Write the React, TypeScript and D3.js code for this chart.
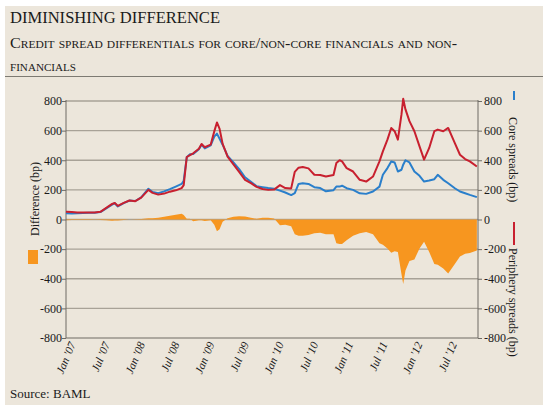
import * as d3 from 'd3';
import { useEffect, useRef } from 'react';

// observation dates (irregular where the lines turn sharply)
const dates = [
    '2007-01-01', '2007-02-01', '2007-03-01', '2007-04-01', '2007-05-01', '2007-06-01',
    '2007-07-01', '2007-08-01', '2007-09-01', '2007-09-15', '2007-10-01', '2007-11-01',
    '2007-12-01', '2008-01-01', '2008-02-01', '2008-03-10', '2008-04-01', '2008-05-01',
    '2008-06-01', '2008-07-01', '2008-08-01', '2008-09-01', '2008-09-12', '2008-09-28',
    '2008-10-15', '2008-11-01', '2008-12-01', '2008-12-15', '2009-01-01', '2009-02-01',
    '2009-02-20', '2009-03-06', '2009-03-20', '2009-04-05', '2009-05-01', '2009-06-01',
    '2009-07-01', '2009-08-01', '2009-09-01', '2009-10-01', '2009-11-01', '2009-12-01',
    '2010-01-01', '2010-02-01', '2010-03-01', '2010-04-01', '2010-04-20', '2010-05-10',
    '2010-06-01', '2010-07-01', '2010-08-01', '2010-09-01', '2010-10-01', '2010-11-10',
    '2010-11-25', '2010-12-12', '2010-12-25', '2011-01-18', '2011-02-21', '2011-03-28',
    '2011-05-01', '2011-06-06', '2011-07-10', '2011-07-28', '2011-08-21', '2011-09-10',
    '2011-09-28', '2011-10-15', '2011-11-03', '2011-11-12', '2011-11-24', '2011-12-15',
    '2012-01-10', '2012-02-06', '2012-03-01', '2012-03-28', '2012-04-24', '2012-05-12',
    '2012-06-10', '2012-07-06', '2012-08-10', '2012-09-06', '2012-10-03', '2012-10-28',
    '2012-12-04',
];

// core spreads (bp), right axis
const core = [
    42, 40, 42, 44, 45, 46,
    50, 75, 100, 110, 88, 110,
    128, 125, 150, 208, 185, 178,
    190, 205, 222, 240, 262, 420,
    440, 442, 475, 505, 480, 500,
    560, 580, 545, 505, 430, 385,
    340, 285, 255, 225, 218, 212,
    208, 195, 182, 165, 178, 240,
    245, 240, 218, 212, 190, 198,
    222, 222, 228, 211, 200, 177,
    173, 189, 222, 302, 347, 392,
    385, 324, 336, 370, 400, 385,
    324, 295, 256, 263, 272, 302,
    268, 245, 211, 189, 177, 166,
    151,
];

// periphery spreads (bp), right axis
const periphery = [
    53, 50, 48, 48, 47, 47,
    52, 78, 105, 112, 92, 112,
    128, 124, 148, 200, 180, 168,
    175, 188, 197, 212, 232, 422,
    435, 447, 478, 510, 488, 505,
    595, 655, 612, 510, 425, 372,
    322, 268, 245, 220, 206, 200,
    202, 232, 212, 210, 322, 350,
    355, 345, 302, 300, 290, 300,
    381, 400, 392, 347, 324, 268,
    256, 290, 392, 460, 539, 618,
    596, 539, 709, 815, 743, 664,
    596, 494, 404, 483, 596, 607,
    596, 618, 516, 437, 408, 392,
    358,
];

// difference (bp), left axis
const difference = [
    -5, -4, -4, -3, -3, -2,
    -3, -5, -8, -6, -6, -3,
    0, 1, 3, 8, 8, 12,
    18, 25, 32, 38, 30, 5,
    5, -12, -5, -5, -10, -5,
    -35, -80, -65, -15, 8, 18,
    22, 20, 12, 5, 12, 12,
    6, -38, -35, -45, -100, -110,
    -110, -105, -92, -90, -100, -100,
    -160, -165, -165, -140, -110, -92,
    -85, -100, -160, -170, -195, -225,
    -215, -220, -370, -435, -345, -280,
    -270, -195, -150, -220, -300, -305,
    -330, -365, -300, -250, -232, -226,
    -210,
];

const yTicks = [800, 600, 400, 200, 0, -200, -400, -600, -800];

const SERIF = '"Liberation Serif", "DejaVu Serif", serif';

export default function App() {
    const ref = useRef<any>();

    useEffect(() => {
        const svg = d3.select<any, any>(ref.current);
        svg.selectAll('*').remove();

        const W = 550;
        const H = 412;
        const plot = { left: 66, right: 478, top: 101, bottom: 338 };

        const parse = d3.timeParse('%Y-%m-%d');
        const data = dates.map((d, i) => ({
            date: parse(d) as Date,
            core: core[i],
            periphery: periphery[i],
            diff: difference[i],
        }));

        const x = d3.scaleTime()
            .domain([new Date(2007, 0, 1), new Date(2012, 11, 10)])
            .range([plot.left, plot.right]);
        const y = d3.scaleLinear().domain([-800, 800]).range([plot.bottom, plot.top]);

        // panel
        svg.append('rect')
            .attr('x', 5).attr('y', 6)
            .attr('width', 538).attr('height', 399)
            .attr('fill', '#ECE6DB');

        // headings
        svg.append('text')
            .attr('x', 10).attr('y', 23)
            .attr('font-family', SERIF).attr('font-size', 16)
            .attr('fill', '#1a1a1a')
            .attr('textLength', 210).attr('lengthAdjust', 'spacingAndGlyphs')
            .text('DIMINISHING DIFFERENCE');
        svg.append('text')
            .attr('x', 10).attr('y', 48)
            .attr('font-family', SERIF).attr('font-size', 14)
            .style('font-variant', 'small-caps')
            .attr('fill', '#1a1a1a')
            .attr('textLength', 447).attr('lengthAdjust', 'spacingAndGlyphs')
            .text('Credit spread differentials for core/non-core financials and non-');
        svg.append('text')
            .attr('x', 10).attr('y', 71)
            .attr('font-family', SERIF).attr('font-size', 14)
            .style('font-variant', 'small-caps')
            .attr('fill', '#1a1a1a')
            .attr('textLength', 66).attr('lengthAdjust', 'spacingAndGlyphs')
            .text('financials');
        svg.append('line')
            .attr('x1', 5).attr('x2', 543)
            .attr('y1', 76.5).attr('y2', 76.5)
            .attr('stroke', '#7d7a72').attr('stroke-width', 1.2);

        // grid
        svg.append('g').selectAll('line')
            .data(yTicks.filter(t => t !== -800))
            .join('line')
            .attr('x1', plot.left).attr('x2', plot.right)
            .attr('y1', d => y(d)).attr('y2', d => y(d))
            .attr('stroke', '#a8a297').attr('stroke-width', 1.4);

        // difference area
        const area = d3.area<any>()
            .x(d => x(d.date))
            .y0(y(0))
            .y1(d => y(d.diff));
        svg.append('path')
            .datum(data)
            .attr('d', area)
            .attr('fill', '#F7961F');

        // axes
        const axisColor = '#6e6b65';
        const leftAxis = d3.axisLeft(y).tickValues(yTicks).tickSize(4).tickFormat((d: any) => String(d));
        const rightAxis = d3.axisRight(y).tickValues(yTicks).tickSize(4).tickFormat((d: any) => String(d));
        const styleAxis = (g: any, anchor: string, dx: number) => {
            g.selectAll('.tick line').attr('stroke', axisColor);
            g.selectAll('.tick text')
                .attr('font-family', SERIF).attr('font-size', 12)
                .attr('fill', '#1a1a1a')
                .attr('text-anchor', anchor)
                .attr('x', dx);
        };
        svg.append('g')
            .attr('transform', `translate(${plot.left},0)`)
            .call(leftAxis)
            .call((g: any) => styleAxis(g, 'end', -4));
        svg.append('g')
            .attr('transform', `translate(${plot.right},0)`)
            .call(rightAxis)
            .call((g: any) => styleAxis(g, 'start', 6));
        svg.selectAll('.domain').remove();
        [plot.left, plot.right].forEach(px => {
            svg.append('line')
                .attr('x1', px).attr('x2', px)
                .attr('y1', plot.top - 1).attr('y2', plot.bottom)
                .attr('stroke', axisColor).attr('stroke-width', 1);
        });
        svg.append('line')
            .attr('x1', plot.left).attr('x2', plot.right)
            .attr('y1', plot.bottom).attr('y2', plot.bottom)
            .attr('stroke', axisColor).attr('stroke-width', 1.2);

        // x labels
        const xTicks = d3.timeMonth.every(6)!.range(new Date(2007, 0, 1), new Date(2012, 7, 1));
        const fmt = d3.timeFormat("%b '%y");
        svg.append('g').selectAll('text')
            .data(xTicks)
            .join('text')
            .attr('transform', d => `translate(${x(d) + 10},344) rotate(-67)`)
            .attr('text-anchor', 'end')
            .attr('font-family', SERIF).attr('font-size', 11.5)
            .attr('font-style', 'italic')
            .attr('fill', '#1a1a1a')
            .text(d => fmt(d));

        // spread lines
        const coreLine = d3.line<any>().x(d => x(d.date)).y(d => y(d.core));
        const perLine = d3.line<any>().x(d => x(d.date)).y(d => y(d.periphery));
        svg.append('path').datum(data)
            .attr('d', coreLine)
            .attr('fill', 'none').attr('stroke', '#2A7FCB').attr('stroke-width', 2)
            .attr('stroke-linejoin', 'round');
        svg.append('path').datum(data)
            .attr('d', perLine)
            .attr('fill', 'none').attr('stroke', '#C8202F').attr('stroke-width', 2)
            .attr('stroke-linejoin', 'round');

        // left legend
        svg.append('text')
            .attr('transform', 'translate(39,199) rotate(-90)')
            .attr('text-anchor', 'middle')
            .attr('font-family', SERIF).attr('font-size', 12)
            .attr('fill', '#1a1a1a')
            .text('Difference (bp)');
        svg.append('rect')
            .attr('x', 28).attr('y', 250)
            .attr('width', 10).attr('height', 14)
            .attr('fill', '#F7961F');

        // right legend
        svg.append('line')
            .attr('x1', 514).attr('x2', 514).attr('y1', 91).attr('y2', 100)
            .attr('stroke', '#2A7FCB').attr('stroke-width', 2);
        svg.append('text')
            .attr('transform', 'translate(509,117) rotate(90)')
            .attr('font-family', SERIF).attr('font-size', 12)
            .attr('fill', '#1a1a1a')
            .text('Core spreads (bp)');
        svg.append('line')
            .attr('x1', 514).attr('x2', 514).attr('y1', 222).attr('y2', 245)
            .attr('stroke', '#C8202F').attr('stroke-width', 2);
        svg.append('text')
            .attr('transform', 'translate(509,248) rotate(90)')
            .attr('font-family', SERIF).attr('font-size', 12)
            .attr('fill', '#1a1a1a')
            .text('Periphery spreads (bp)');

        // source
        svg.append('text')
            .attr('x', 10).attr('y', 398)
            .attr('font-family', SERIF).attr('font-size', 13)
            .attr('fill', '#1a1a1a')
            .text('Source: BAML');

        svg.attr('width', W).attr('height', H);
    });

    return (
        <div style={{ position: 'absolute', left: 0, top: 0 }}>
            <svg ref={ref} width={550} height={412} style={{ display: 'block' }}></svg>
        </div>
    );
}
